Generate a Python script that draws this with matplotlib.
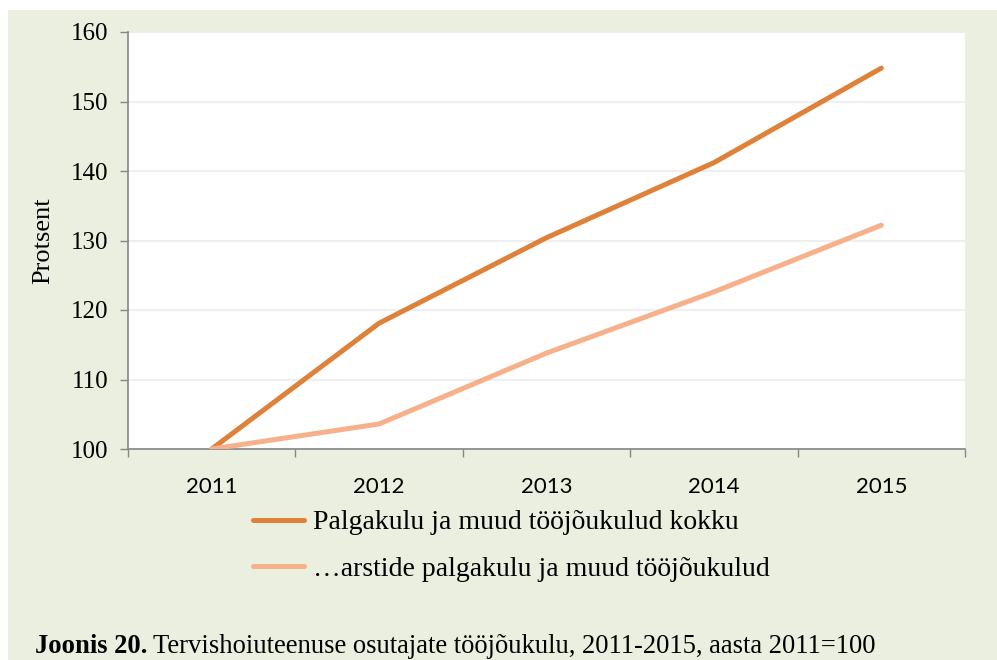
import matplotlib
matplotlib.use("Agg")
import matplotlib.pyplot as plt
from matplotlib.patches import Rectangle

# data
years = ["2011", "2012", "2013", "2014", "2015"]
total_costs = [100, 118.1, 130.4, 141.2, 154.8]
doctor_costs = [100, 103.6, 113.8, 122.6, 132.2]
labels = ["Palgakulu ja muud tööjõukulud kokku",
          "…arstide palgakulu ja muud tööjõukulud"]
yticks = [100, 110, 120, 130, 140, 150, 160]

plt.rcParams["font.family"] = ["Liberation Serif", "DejaVu Serif"]
bg = "#EBEFDF"

fig = plt.figure(figsize=(9.97, 6.6), dpi=100)
fig.patch.set_facecolor("white")
fig.patches.append(Rectangle((8 / 997, 0), 1, 1 - 10 / 660, transform=fig.transFigure,
                             facecolor=bg, edgecolor="none", zorder=-5))

ax = fig.add_axes([128 / 997, 1 - 449 / 660, (965 - 128) / 997, (449 - 32) / 660])
ax.set_facecolor("white")

x = list(range(len(years)))
l1, = ax.plot(x, total_costs, color="#DF8138", lw=3.6, solid_capstyle="round", zorder=3)
l2, = ax.plot(x, doctor_costs, color="#F6B08A", lw=3.6, solid_capstyle="round", zorder=3)

ax.set_xlim(-0.5, len(years) - 0.5)
ax.set_ylim(100, 160)
ax.set_yticks(yticks)
ax.yaxis.grid(True, color="#EFEFEF", lw=1.5)
ax.set_axisbelow(True)

ax.set_xticks([i - 0.5 for i in range(len(years) + 1)])
ax.set_xticklabels([])
ax.set_xticks(x, minor=True)
ax.set_xticklabels(years, minor=True)
ax.tick_params(axis="x", which="major", length=6, width=1, color="#868686", direction="out")
ax.tick_params(axis="x", which="minor", length=0, pad=20, labelsize=16,
               labelfontfamily="Lato")
ax.tick_params(axis="y", length=6, width=1, color="#868686", pad=8, labelsize=18)

for s in ["top", "right"]:
    ax.spines[s].set_visible(False)
for s in ["left", "bottom"]:
    ax.spines[s].set_color("#868686")
    ax.spines[s].set_linewidth(1.2)

ax.set_ylabel("Protsent", fontsize=19, labelpad=12)

fig.legend([l1, l2], labels, loc="upper left", bbox_to_anchor=(253 / 997, 1 - 510 / 660),
           frameon=False, prop={"size": 20}, handlelength=1.85,
           handletextpad=0.3, labelspacing=0.75, borderaxespad=0, borderpad=0)

t1 = fig.text(35 / 997, 1 - 653 / 660, "Joonis 20.", fontsize=19.2,
              fontweight="bold", va="baseline")
fig.canvas.draw()
bb = t1.get_window_extent()
fig.text((bb.x1 + 6) / 997, 1 - 653 / 660,
         "Tervishoiuteenuse osutajate tööjõukulu, 2011-2015, aasta 2011=100",
         fontsize=19.2, va="baseline")

fig.savefig("out.png", dpi=100, facecolor=fig.get_facecolor())
